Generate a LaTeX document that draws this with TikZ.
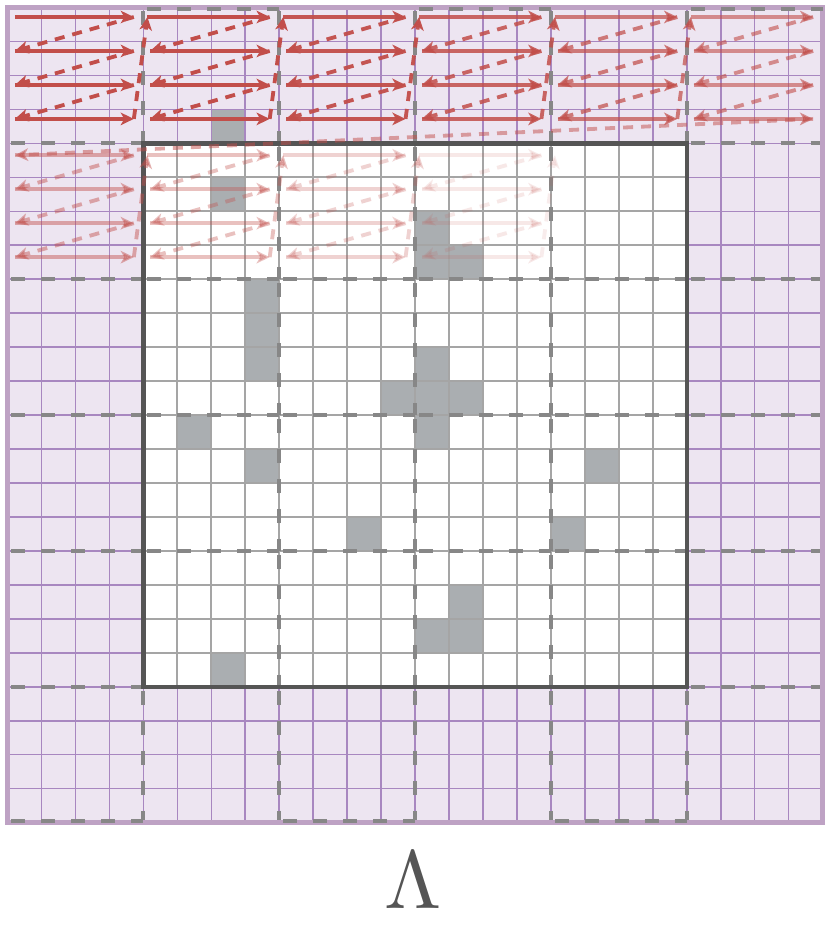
\documentclass[tikz,border=0pt]{standalone}
\usetikzlibrary{arrows.meta}
\definecolor{lav}{RGB}{237,229,241}
\definecolor{purgrid}{RGB}{168,135,192}
\definecolor{purborder}{RGB}{190,162,196}
\definecolor{ingrid}{RGB}{165,165,165}
\definecolor{inborder}{RGB}{85,85,85}
\definecolor{cellgray}{RGB}{170,174,177}
\definecolor{blockdash}{RGB}{135,135,135}
\definecolor{arrred}{RGB}{194,78,74}
\definecolor{lamcol}{RGB}{85,85,85}
\tikzset{
  pgridline/.style={draw=purgrid, line width=1.3pt},
  igridline/.style={draw=ingrid, line width=1.6pt},
  blockline/.style={draw=blockdash, line width=3.2pt, dash pattern=on 11.7pt off 13.4pt, dash phase=21.8pt},
  arr/.style={draw=arrred, line width=3.2pt, -{Stealth[length=11pt,width=10.5pt,inset=3pt]}},
  darr/.style={arr, dash pattern=on 8.4pt off 6.7pt},
  graycell/.style={fill=cellgray},
}
\begin{document}
\begin{tikzpicture}[x=1cm,y=-1cm]
\useasboundingbox (-0.221,-0.221) rectangle (24.249,27.22);
% background
\fill[lav] (0,0) rectangle (24,24);
\fill[graycell] (6,3) rectangle ++(1,1);
\foreach \i in {1,...,23}{
  \draw[pgridline] (\i,0) -- (\i,24);
  \draw[pgridline] (0,\i) -- (24,\i);
}
% inner region
\fill[white] (4,4) rectangle (20,20);
\foreach \c/\r in {6/5,12/6,12/7,13/7,7/8,7/9,7/10,12/10,11/11,12/11,13/11,5/12,12/12,7/13,17/13,10/15,16/15,13/17,13/18,12/18,6/19}
  \fill[graycell] (\c,\r) rectangle ++(1,1);
\foreach \i in {5,...,19}{
  \draw[igridline] (\i,4) -- (\i,20);
  \draw[igridline] (4,\i) -- (20,\i);
}
% block dashed lines
\foreach \k in {4,8,12,16,20}{
  \foreach \s in {0,4,...,20}{
    \draw[blockline] (\s,\k) -- (\s+4,\k);
    \draw[blockline] (\k,\s) -- (\k,\s+4);
  }
}
\draw[draw=inborder, line width=3.8pt] (4,4) rectangle (20,20);
% coordinates for the scan path
\foreach \b in {0,...,5}{
  \foreach \r in {0,...,3}{
    \pgfmathsetmacro\sx{\b==0 ? 0.22 : (\r==0 ? 4*\b+0.12 : 4*\b+0.2)}
    \coordinate (a\b-\r) at (\sx,\r+0.28);
    \coordinate (z\b-\r) at (4*\b+3.72,\r+0.28);
  }
}
\foreach \b in {0,...,4}{
  \foreach \r in {4,...,7}{
    \pgfmathsetmacro\sx{\b==0 ? 0.22 : (\r==4 ? 4*\b+0.12 : 4*\b+0.2)}
    \coordinate (a\b-\r) at (\sx,\r+0.35);
    \coordinate (z\b-\r) at (4*\b+3.72,\r+0.35);
  }
}
% top block row
\foreach \b/\op in {0/1,1/1,2/0.95,3/0.85,4/0.72,5/0.6}{
  \begin{scope}[opacity=\op]
    \foreach \r in {0,...,3} \draw[arr] (a\b-\r) -- (z\b-\r);
    \foreach \r/\n in {0/1,1/2,2/3} \draw[darr] (z\b-\r) -- (a\b-\n);
  \end{scope}
}
\foreach \b/\n/\op in {0/1/1,1/2/1,2/3/0.95,3/4/0.85,4/5/0.72}
  \draw[darr,opacity=\op] (z\b-3) -- (a\n-0);
\draw[darr,opacity=0.5] (z5-3) -- (a0-4);
% second block row
\foreach \b/\op in {0/0.45,1/0.35,2/0.25,3/0.13}{
  \begin{scope}[opacity=\op]
    \foreach \r in {4,...,7} \draw[arr] (a\b-\r) -- (z\b-\r);
    \foreach \r/\n in {4/5,5/6,6/7} \draw[darr] (z\b-\r) -- (a\b-\n);
  \end{scope}
}
\foreach \b/\n/\op in {0/1/0.45,1/2/0.35,2/3/0.25,3/4/0.1}
  \draw[darr,opacity=\op] (z\b-7) -- (a\n-4);
% outer border
\draw[draw=purborder, line width=4.2pt] (0,0) rectangle (24,24);
\foreach \s in {4,12,20} \draw[blockline] (\s,0.05) -- (\s+4,0.05);
\foreach \s in {0,8,16} \draw[blockline] (\s,23.95) -- (\s+4,23.95);
% label
\node[text=lamcol, scale=6.9, inner sep=0pt] (lam) at (11.94,25.69) {$\Lambda$};
\end{tikzpicture}
\end{document}
